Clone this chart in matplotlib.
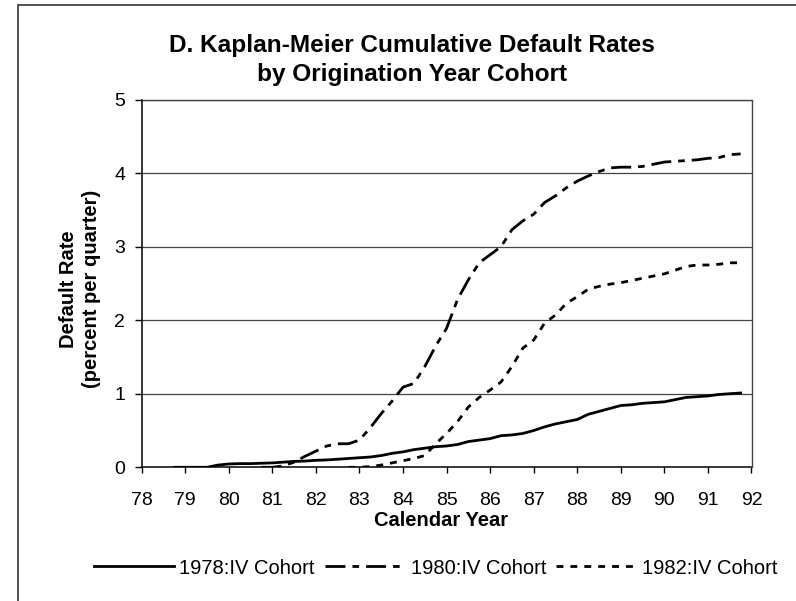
import numpy as np
import matplotlib
matplotlib.use("Agg")
import matplotlib.pyplot as plt
from matplotlib.patches import Rectangle

plt.rcParams['font.family'] = ['Liberation Sans', 'DejaVu Sans']

# quarterly observations, values in percent
cohort_names = ['1978:IV Cohort', '1980:IV Cohort', '1982:IV Cohort']

q_1978 = np.arange(78.75, 91.76, 0.25)
rate_1978 = [0, 0, 0, 0, 0.03, 0.045, 0.05, 0.05, 0.055, 0.06,
             0.07, 0.08, 0.085, 0.095, 0.10, 0.11, 0.12, 0.13, 0.14, 0.16,
             0.19, 0.21, 0.24, 0.26, 0.28, 0.29, 0.31, 0.35, 0.37, 0.39,
             0.43, 0.44, 0.46, 0.50, 0.55, 0.59, 0.62, 0.65, 0.72, 0.76,
             0.80, 0.84, 0.85, 0.87, 0.88, 0.89, 0.92, 0.95, 0.96, 0.97,
             0.99, 1.00, 1.01]

q_1980 = np.arange(80.75, 91.76, 0.25)
rate_1980 = [0, 0, 0.02, 0.07, 0.15, 0.22, 0.29, 0.32, 0.32, 0.37,
             0.54, 0.73, 0.90, 1.09, 1.14, 1.37, 1.65, 1.89, 2.28, 2.55,
             2.78, 2.89, 3.00, 3.23, 3.35, 3.44, 3.60, 3.69, 3.80, 3.89,
             3.96, 4.02, 4.07, 4.08, 4.08, 4.09, 4.12, 4.15, 4.16, 4.17,
             4.18, 4.20, 4.21, 4.25, 4.26]

q_1982 = np.arange(82.75, 91.76, 0.25)
rate_1982 = [0, 0, 0.01, 0.03, 0.06, 0.09, 0.12, 0.16, 0.32, 0.46,
             0.62, 0.82, 0.95, 1.05, 1.16, 1.37, 1.62, 1.73, 1.96, 2.07,
             2.23, 2.32, 2.42, 2.46, 2.49, 2.51, 2.54, 2.57, 2.60, 2.63,
             2.68, 2.73, 2.75, 2.75, 2.76, 2.78, 2.78]

x_ticks = list(range(78, 93))
y_ticks = [0, 1, 2, 3, 4, 5]

W, H = 796, 601
fig = plt.figure(figsize=(W / 100, H / 100), dpi=100)

# chart-area frame (runs past the right and bottom edges)
fig.patches.append(Rectangle((18 / W, -0.2), 1.2, 0.2 + (H - 5) / H,
                             transform=fig.transFigure, fill=False,
                             edgecolor='#333333', linewidth=1.2))

ax = fig.add_axes([141.7 / W, (H - 467.3) / H, (751.5 - 141.7) / W, (467.3 - 99.5) / H])

lw = 2.0
ax.plot(q_1978, rate_1978, color='black', lw=lw, linestyle='-',
        label=cohort_names[0], solid_joinstyle='round')
ax.plot(q_1980, rate_1980, color='black', lw=lw,
        linestyle=(0, (7.2, 2.5, 2.4, 2.5)), label=cohort_names[1])
ax.plot(q_1982, rate_1982, color='black', lw=lw,
        linestyle=(0, (2.5, 2.5)), label=cohort_names[2])

ax.set_xlim(78, 92)
ax.set_ylim(0, 5)
ax.set_xticks(x_ticks)
ax.set_xticklabels([str(t) for t in x_ticks])
ax.set_yticks(y_ticks)
for v in y_ticks[1:]:
    ax.axhline(v, color='#444444', lw=0.9, zorder=0)

ax.tick_params(axis='x', direction='out', length=4, width=1, pad=14, labelsize=14)
ax.tick_params(axis='y', direction='out', length=5, width=1, pad=7, labelsize=14)
for side in ['left', 'bottom']:
    ax.spines[side].set_linewidth(1.1)
    ax.spines[side].set_color('black')
for side in ['top', 'right']:
    ax.spines[side].set_linewidth(1.0)
    ax.spines[side].set_color('#444444')

ax.set_xlabel('Calendar Year', fontsize=14.5, fontweight='bold', va='baseline')
ax.xaxis.set_label_coords(0.491, -(526 - 467.3) / 367.8)
ax.set_ylabel('Default Rate\n(percent per quarter)', fontsize=14.5,
              fontweight='bold', va='center', ha='center', linespacing=1.25)
ax.yaxis.set_label_coords((80 - 141.7) / 609.8, (467.3 - 289) / 367.8)

fig.text(412 / W, (H - 51.7) / H, 'D. Kaplan-Meier Cumulative Default Rates',
         ha='center', va='baseline', fontsize=17.6, fontweight='bold')
fig.text(412 / W, (H - 80.7) / H, 'by Origination Year Cohort',
         ha='center', va='baseline', fontsize=17.6, fontweight='bold')

fig.legend(loc='center', bbox_to_anchor=(435.5 / W, (H - 568) / H), ncol=3,
           frameon=False, fontsize=14.5, handlelength=4.0, handletextpad=0.25,
           columnspacing=0.5, borderpad=0, borderaxespad=0)

fig.savefig('out.png', dpi=100)
